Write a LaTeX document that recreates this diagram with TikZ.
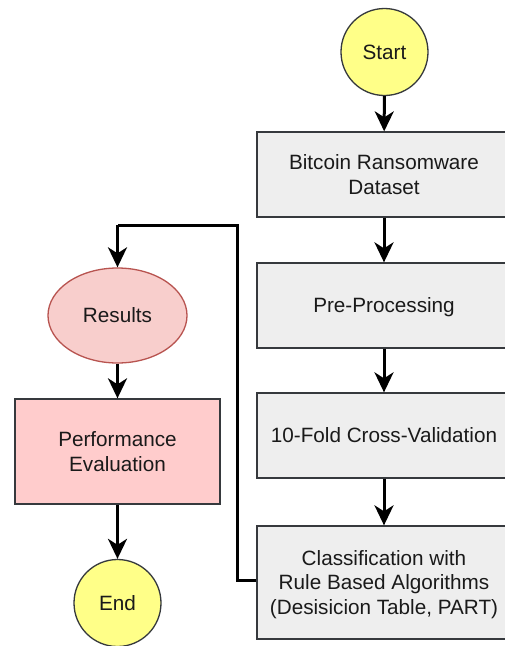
\documentclass[tikz,border=0pt]{standalone}
\usepackage{fontspec}
\setmainfont{Liberation Sans}
\usetikzlibrary{arrows.meta,shapes.geometric}
\definecolor{termfill}{HTML}{FFFF88}
\definecolor{boxfill}{HTML}{EEEEEE}
\definecolor{darkline}{HTML}{36393D}
\definecolor{resfill}{HTML}{F8CECC}
\definecolor{resline}{HTML}{B85450}
\definecolor{perffill}{HTML}{FFCCCC}
\definecolor{txt}{HTML}{1A1A1A}
% #1 = height from top of first line's capitals to last baseline
\newcommand\lbl[2]{\raisebox{0pt}[#1][0pt]{\begin{tabular}[b]{@{}c@{}}#2\end{tabular}}}
\tikzset{
  base/.style={inner sep=0pt, align=center, text=txt, font=\fontsize{20.7}{24.3}\selectfont, line width=1.3pt},
  term/.style={base, circle, draw=darkline, fill=termfill, minimum size=87pt},
  stepbox/.style={base, rectangle, draw=darkline, fill=boxfill, minimum width=254pt},
  resnode/.style={base, ellipse, draw=resline, fill=resfill, minimum width=139pt, minimum height=95pt},
  perfbox/.style={base, rectangle, draw=darkline, fill=perffill, minimum width=205pt, minimum height=105pt},
  flow/.style={line width=3pt, draw=black, -{Stealth[length=20pt,width=19pt,inset=6pt]}},
  loopline/.style={line width=3pt, draw=black}
}
\begin{document}
\begin{tikzpicture}[x=1pt,y=-1pt]
\useasboundingbox (0,0) rectangle (504,646);
\fill[white] (0,0) rectangle (504,646);
\node[term] (start) at (384.5,52) {\lbl{14.8pt}{Start}};
\node[stepbox, minimum height=85pt] (data) at (384,174.5) {\lbl{39.1pt}{Bitcoin Ransomware\\Dataset}};
\node[stepbox, minimum height=85pt] (pre) at (384,305.5) {\lbl{14.8pt}{Pre-Processing}};
\node[stepbox, minimum height=85pt] (cv) at (384,435.5) {\lbl{14.8pt}{10-Fold Cross-Validation}};
\node[stepbox, minimum height=113pt] (cls) at (384,582.5) {\lbl{63.4pt}{Classification with\\Rule Based Algorithms\\(Desisicion Table, PART)}};
\node[resnode] (res) at (117.5,315.5) {\lbl{14.8pt}{Results}};
\node[perfbox] (perf) at (117.5,451.5) {\lbl{39.1pt}{Performance\\Evaluation}};
\node[term] (end) at (117.5,603) {\lbl{14.8pt}{End}};
\coordinate (c1) at (237,580);
\coordinate (c2) at (237,225);
\coordinate (c3) at (117.5,225);
\draw[flow] (start) -- (data);
\draw[flow] (data) -- (pre);
\draw[flow] (pre) -- (cv);
\draw[flow] (cv) -- (cls);
\draw[flow] (res) -- (perf);
\draw[flow] (perf) -- (end);
\draw[loopline] (cls.west |- c1) -- (c1) -- (c2) -- (c3);
\draw[flow] (c3) -- (res);
\end{tikzpicture}
\end{document}
